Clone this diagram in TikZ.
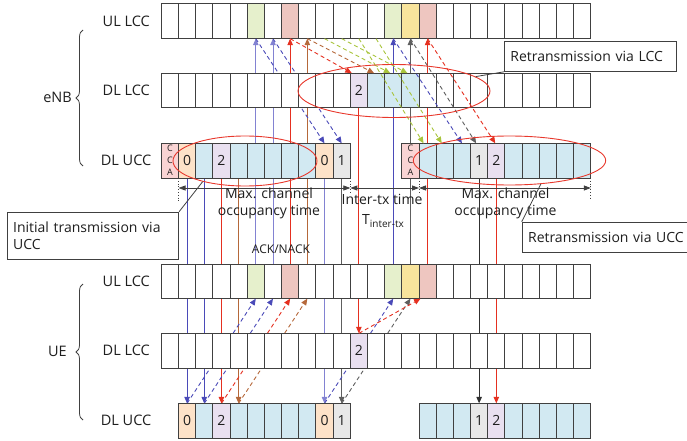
\documentclass[tikz,border=0pt]{standalone}
\usepackage{fontspec}
\setmainfont{Open Sans}
\usetikzlibrary{arrows.meta,decorations.pathreplacing,shapes.geometric}
\pgfdeclarelayer{bg}
\pgfsetlayers{bg,main}
\definecolor{cgreen}{HTML}{E6F0CC}
\definecolor{cpink}{HTML}{EEC6C0}
\definecolor{cyellow}{HTML}{F8E49C}
\definecolor{cblue}{HTML}{D2E9F2}
\definecolor{cpurple}{HTML}{E9E0F0}
\definecolor{corange}{HTML}{FDE2C8}
\definecolor{cgrey}{HTML}{E8E8E8}
\definecolor{ccca}{HTML}{F9D4D4}
\definecolor{lblue}{HTML}{4A4AB8}
\definecolor{llblue}{HTML}{8282D2}
\definecolor{lred}{HTML}{E53020}
\definecolor{lbrown}{HTML}{B5683A}
\definecolor{lgreen}{HTML}{A8C43C}
\definecolor{lgrey}{HTML}{5E5E5E}
\definecolor{dgrey}{HTML}{303030}
\definecolor{border}{HTML}{404040}
\definecolor{ered}{HTML}{E8382C}
\definecolor{txt}{HTML}{1E1E1E}
\begin{document}
\begin{tikzpicture}[x=1pt,y=-1pt,
  cellbox/.style={draw=border,line width=0.9pt,minimum width=17.18pt,minimum height=34.7pt,inner sep=0pt,outer sep=0pt,fill=white,text=txt,font=\fontsize{14}{16}\selectfont},
  lab/.style={font=\fontsize{14.5}{16}\selectfont,text=txt,anchor=east,inner sep=0pt},
  conn/.style={line width=0.9pt,-{Triangle[length=6.5pt,width=5.5pt]}},
  dconn/.style={conn,dash pattern=on 4pt off 3pt},
  ell/.style={ellipse,draw=ered,line width=0.9pt,inner sep=0pt},
  callbox/.style={draw=border,line width=0.8pt,fill=white,text=txt,font=\fontsize{14}{16.6}\selectfont,align=left,inner xsep=6pt,inner ysep=0pt,anchor=north west},
  dim/.style={line width=0.8pt,draw=border,{Triangle[length=7pt,width=5pt]}-{Triangle[length=7pt,width=5pt]}},
  dimtext/.style={font=\fontsize{14}{16.6}\selectfont,text=txt,align=center,inner sep=0pt},
  dotl/.style={draw=border,line width=0.8pt,dotted}
]
\useasboundingbox (0,0) rectangle (687,441);

% ---- rows of cells
\foreach \i in {0,...,24} {
  \node[cellbox] (eul-\i) at ({161.3+17.18*(\i+0.5)},21.3) {};
  \node[cellbox] (edl-\i) at ({161.3+17.18*(\i+0.5)},90.5) {};
  \node[cellbox] (uul-\i) at ({161.3+17.18*(\i+0.5)},281.3) {};
  \node[cellbox] (udl-\i) at ({161.3+17.18*(\i+0.5)},350.7) {};
}
\foreach \i/\f in {5/cgreen,7/cpink,13/cgreen,14/cyellow,15/cpink} {
  \node[cellbox,fill=\f] (eul-\i) at ({161.3+17.18*(\i+0.5)},21.3) {};
  \node[cellbox,fill=\f] (uul-\i) at ({161.3+17.18*(\i+0.5)},281.3) {};
}
\node[cellbox,fill=cpurple] (edl-11) at ({161.3+17.18*11.5},90.5) {2};
\foreach \i in {12,13,14}
  \node[cellbox,fill=cblue] (edl-\i) at ({161.3+17.18*(\i+0.5)},90.5) {};
\node[cellbox,fill=cpurple] (udl-11) at ({161.3+17.18*11.5},350.7) {2};
\foreach \i/\f/\t in {1/corange/0,2/cblue/{},3/cpurple/2,4/cblue/{},5/cblue/{},6/cblue/{},7/cblue/{},8/cblue/{},9/corange/0,10/cgrey/1,15/cblue/{},16/cblue/{},17/cblue/{},18/cgrey/1,19/cpurple/2,20/cblue/{},21/cblue/{},22/cblue/{},23/cblue/{},24/cblue/{}} {
  \node[cellbox,fill=\f] (edu-\i) at ({161.3+17.18*(\i+0.5)},160.7) {\t};
  \node[cellbox,fill=\f] (udu-\i) at ({161.3+17.18*(\i+0.5)},420.7) {\t};
}
\foreach \i in {0,14}
  \node[cellbox,fill=ccca,align=center,font=\fontsize{9}{12}\selectfont] (edu-\i) at ({161.3+17.18*(\i+0.5)},160.7) {C\\C\\A};

% ---- lines behind the rows
\begin{pgfonlayer}{bg}
  \foreach \i/\col in {1/lblue,2/lblue,3/lred,4/lbrown,9/llblue,10/lgrey,18/dgrey,19/lred}
    \draw[conn,color=\col] (edu-\i.south) -- (udu-\i.north);
  \foreach \i/\col in {5/llblue,6/llblue,7/lred,8/lbrown,13/lblue,14/lgrey,15/lred}
    \draw[conn,color=\col] (uul-\i.north) -- (eul-\i.south);
  \draw[conn,color=lred] (edl-11.south) -- (udl-11.north);
  \foreach \a/\b/\col in {1/5/lblue,2/6/lblue,3/7/lred,4/8/lbrown,9/13/lblue,10/14/lgrey}
    \draw[dconn,color=\col] (udu-\a.north) -- (uul-\b.south);
  \draw[dconn,color=lblue] (eul-5.south) -- (edu-9.north);
  \draw[dconn,color=lblue] (eul-6.south) -- (edu-10.north);
\end{pgfonlayer}

% ---- dashed lines over the rows
\draw[dconn,color=lred] (eul-7.south) -- ([xshift=1.5pt]edl-11.north west);
\draw[dconn,color=lbrown] (eul-8.south) -- ([xshift=-2pt]edl-12.north);
\draw[dconn,color=lgreen] (eul-9.south) -- ([xshift=-3pt]edl-13.north);
\draw[dconn,color=lgreen] (eul-10.south) -- ([xshift=-3pt]edl-14.north);
\draw[dconn,color=lgreen] (eul-11.south) -- ([xshift=-4pt]edu-15.north);
\draw[dconn,color=lgreen] (eul-12.south) -- ([xshift=-3pt]edu-16.north);
\draw[dconn,color=lblue] (eul-13.south) -- (edu-17.north);
\draw[dconn,color=lgrey] (eul-14.south) -- ([xshift=-3pt]edu-18.north);
\draw[dconn,color=lred] (eul-15.south) -- ([xshift=-1pt]edu-19.north);
\draw[dconn,color=lred] (udl-11.north) -- ([xshift=1.5pt]uul-15.south west);

% ---- row labels and braces
\node[lab] (l1) at (150,21.3) {UL LCC};
\node[lab] (l2) at (150,90.5) {DL LCC};
\node[lab] (l3) at (151.5,160.7) {DL UCC};
\node[lab] (l4) at (150,281.3) {UL LCC};
\node[lab] (l5) at (150,350.7) {DL LCC};
\node[lab] (l6) at (151.5,420.7) {DL UCC};
\draw[decorate,decoration={brace,amplitude=7pt},draw=border,line width=0.8pt] (83,166) -- (83,30);
\draw[decorate,decoration={brace,amplitude=7pt},draw=border,line width=0.8pt] (83,420) -- (83,284);
\node[lab] (enb) at (72,97) {eNB};
\node[lab] (ue) at (67,351) {UE};

% ---- time spans
\coordinate (d0) at (178.5,188);
\coordinate (d1) at (350.3,188);
\coordinate (d2) at (419.0,188);
\coordinate (d3) at (590.8,188);
\draw[dotl] (edu-1.south west) -- ++(0,24);
\draw[dotl] (edu-10.south east) -- ++(0,16);
\draw[dotl] (edu-14.south east) -- ++(0,16);
\draw[dotl] (edu-24.south east) -- ++(0,22);
\draw[dim] (d0) -- (d1);
\draw[dim] (d1) -- (d2);
\draw[dim] (d2) -- (d3);
\node[dimtext] (t1) at (269,203.3) {Max. channel\\occupancy time};
\node[dimtext] (t2) at (382,199.5) {Inter-tx time};
\node[dimtext] (t3) at (383,221) {T\raisebox{-3pt}{\fontsize{10}{12}\selectfont inter-tx}};
\node[dimtext] (t4) at (505.5,203.3) {Max. channel\\occupancy time};
\node[dimtext,font=\fontsize{12}{14}\selectfont] (ack) at (281,249.3) {ACK/NACK};

% ---- ellipses and callouts
\node[ell,minimum width=192pt,minimum height=53pt] (e1) at (394,91) {};
\node[ell,minimum width=144pt,minimum height=50pt] (e2) at (245,161) {};
\node[ell,minimum width=192.4pt,minimum height=49pt] (e3) at (509.5,160.5) {};
\node[callbox,text width=160pt,minimum height=30.3pt] (c1) at (504,40.7) {Retransmission via LCC};
\node[callbox,text width=159.6pt,minimum height=47.3pt] (c2) at (6.7,211.7) {Initial transmission via\\UCC};
\node[callbox,text width=164pt,minimum height=30.6pt] (c3) at (521.7,221.7) {Retransmission via UCC};
\draw[draw=border,line width=0.8pt] (c1.south west) -- (e1.10.7);
\draw[draw=border,line width=0.8pt] (c2.north east) -- (e2.206);
\draw[draw=border,line width=0.8pt] (c3.north west) -- (e3.323.3);
\end{tikzpicture}
\end{document}
